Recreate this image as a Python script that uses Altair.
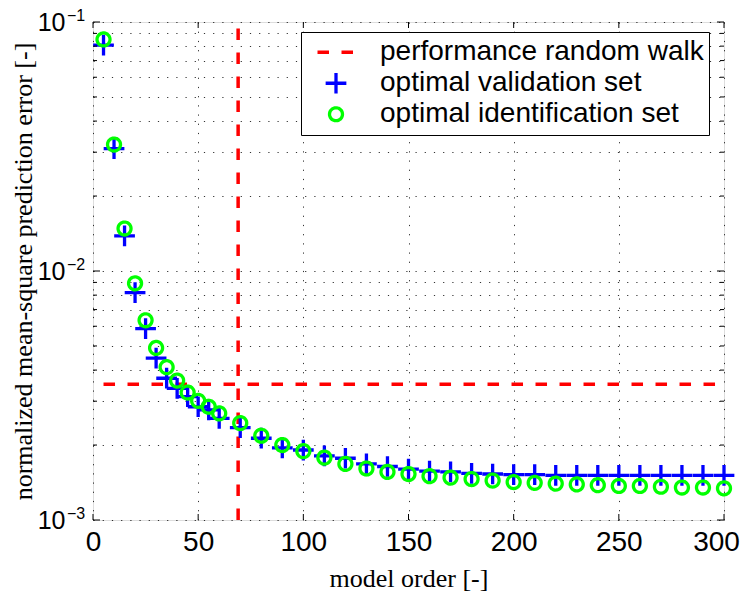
import altair as alt
import pandas as pd

# ---------------- data ----------------
orders = [5, 10, 15, 20, 25, 30, 35, 40, 45, 50, 55, 60,
          70, 80, 90, 100, 110, 120, 130, 140, 150, 160, 170, 180, 190, 200,
          210, 220, 230, 240, 250, 260, 270, 280, 290, 300]
val_err = [0.0808, 0.0310, 0.01384, 0.00818, 0.00587, 0.00447, 0.00371, 0.00338,
           0.00313, 0.00285, 0.00277, 0.00256, 0.00235, 0.00213, 0.00195, 0.00191,
           0.00181, 0.00177, 0.00168, 0.00164, 0.00160, 0.00157, 0.00156, 0.00154,
           0.00153, 0.00152, 0.00152, 0.00151, 0.00151, 0.00151, 0.00151, 0.00151,
           0.00151, 0.00151, 0.00151, 0.00151]
ident_err = [0.0851, 0.0322, 0.01481, 0.00892, 0.00634, 0.00491, 0.00411, 0.00363,
             0.00325, 0.00301, 0.00285, 0.00268, 0.00245, 0.00218, 0.00200, 0.00189,
             0.00178, 0.00168, 0.00161, 0.00156, 0.00153, 0.00150, 0.00148, 0.00146,
             0.00144, 0.00142, 0.00141, 0.00140, 0.00139, 0.00138, 0.00137, 0.00137,
             0.00136, 0.00135, 0.00135, 0.00134]
rw_level = 0.00351        # performance random walk (horizontal)
rw_order = 69             # chosen model order (vertical)
rw_x_range = [5, 300]
y_range = [0.001, 0.1]

names = ["performance random walk", "optimal validation set", "optimal identification set"]
colors = ["#ff0000", "#0000ff", "#00ff00"]
# shapes drawn in unit space, all scaled with one symbol size
shapes = ["M-1,0L1,0",
          "M-0.56,0L0.56,0M0,-0.56L0,0.56",
          "M0.35,0A0.35,0.35 0 1,1 -0.35,0A0.35,0.35 0 1,1 0.35,0Z"]
dashes = [[11.5, 12.5], [1, 0], [1, 0]]
SYM = 1369

x_ticks = [0, 50, 100, 150, 200, 250, 300]
y_major = [0.001, 0.01, 0.1]
y_minor = [m * d for d in [0.001, 0.01] for m in range(2, 10)]
y_grid = sorted(y_major + y_minor)
exponents = ["\u22123", "\u22122", "\u22121"]

W, H = 631, 498

# ---------------- tables ----------------
df_val = pd.DataFrame({"order": orders, "err": val_err, "series": names[1]})
df_id = pd.DataFrame({"order": orders, "err": ident_err, "series": names[2]})
df_rw = pd.DataFrame({
    "order": [rw_x_range[0], rw_order],
    "order2": [rw_x_range[1], rw_order],
    "err": [rw_level, y_range[0]],
    "err2": [rw_level, y_range[1]],
    "series": [names[0], names[0]],
})
df_xt = pd.DataFrame({"order": x_ticks})
df_ymaj = pd.DataFrame({"err": y_major})
df_ymin = pd.DataFrame({"err": y_minor})
df_exp = pd.DataFrame({"err": y_major, "e": exponents})

xscale = alt.Scale(domain=[0, 300], nice=False, zero=False)
yscale = alt.Scale(type="log", domain=y_range, nice=False)

leg = alt.Legend(
    title=None, orient="none", legendX=208, legendY=10,
    fillColor="white", strokeColor="black", padding=5,
    labelFont="Liberation Sans", labelFontSize=28, labelColor="black",
    labelOffset=23.5, rowPadding=0, symbolStrokeWidth=3.3, labelLimit=0,
    symbolOffset=9.5, symbolFillColor="transparent", symbolSize=SYM,
    clipHeight=30.5, labelExpr="datum.label + '\u00a0\u00a0'",
)

color_enc = alt.Color("series:N", scale=alt.Scale(domain=names, range=colors), legend=leg)
shape_enc = alt.Shape("series:N", scale=alt.Scale(domain=names, range=shapes), legend=leg)
dash_enc = alt.StrokeDash("series:N", scale=alt.Scale(domain=names, range=dashes), legend=leg)

X = alt.X("order:Q", scale=xscale, axis=alt.Axis(
    values=x_ticks, title="model order [-]", grid=True, gridDash=[1.2, 8],
    gridColor="#000000", gridOpacity=0.8, ticks=False, tickSize=0, domain=False,
    labelFlush=False, labelOverlap=False,
    labelOffset={"condition": {"test": "datum.value >= 300", "value": -8}, "value": 0},
    labelFont="Liberation Sans", labelFontSize=28, labelColor="black", labelPadding=8,
    titleFont="Liberation Serif", titleFontSize=26, titleFontWeight="normal",
    titleColor="black", titleX=315.5, titleY=66, titleAlign="center",
    titleBaseline="alphabetic"))
Y = alt.Y("err:Q", scale=yscale, axis=alt.Axis(
    values=y_grid, title="normalized mean-square prediction error [-]", grid=True,
    gridDash=[1.2, 8], gridColor="#000000", gridOpacity=0.8, ticks=False, tickSize=0,
    domain=False, labelOverlap=False, labelFlush=False,
    labelExpr="abs(log(datum.value)/LN10 - round(log(datum.value)/LN10)) < 0.001 ? '10' : ''",
    labelFont="Liberation Sans", labelFontSize=25, labelColor="black", labelPadding=28,
    labelBaseline="middle",
    titleFont="Liberation Serif", titleFontSize=26, titleFontWeight="normal",
    titleColor="black", titleX=-62, titleY=249, titleAngle=270, titleAlign="center",
    titleBaseline="alphabetic"))

rw = alt.Chart(df_rw).mark_rule(strokeWidth=3.5).encode(
    x=X, x2="order2:Q", y=Y, y2="err2:Q",
    color=color_enc, strokeDash=dash_enc)

pts_val = alt.Chart(df_val).mark_point(filled=False, strokeWidth=3.3, opacity=1, size=SYM).encode(
    x="order:Q", y=alt.Y("err:Q", scale=yscale),
    color=color_enc, shape=shape_enc, strokeDash=dash_enc)

pts_id = alt.Chart(df_id).mark_point(filled=False, strokeWidth=3.3, opacity=1, size=SYM).encode(
    x="order:Q", y=alt.Y("err:Q", scale=yscale),
    color=color_enc, shape=shape_enc, strokeDash=dash_enc)

# inward tick marks (matlab style box)
tx_b = alt.Chart(df_xt).mark_rule(color="black", strokeWidth=1).encode(
    x="order:Q", y=alt.value(H), y2=alt.value(H - 6))
tx_t = alt.Chart(df_xt).mark_rule(color="black", strokeWidth=1).encode(
    x="order:Q", y=alt.value(0), y2=alt.value(6))
ty_maj_l = alt.Chart(df_ymaj).mark_rule(color="black", strokeWidth=1).encode(
    y=alt.Y("err:Q", scale=yscale), x=alt.value(0), x2=alt.value(7))
ty_maj_r = alt.Chart(df_ymaj).mark_rule(color="black", strokeWidth=1).encode(
    y=alt.Y("err:Q", scale=yscale), x=alt.value(W), x2=alt.value(W - 7))
ty_min_l = alt.Chart(df_ymin).mark_rule(color="black", strokeWidth=1).encode(
    y=alt.Y("err:Q", scale=yscale), x=alt.value(0), x2=alt.value(4))
ty_min_r = alt.Chart(df_ymin).mark_rule(color="black", strokeWidth=1).encode(
    y=alt.Y("err:Q", scale=yscale), x=alt.value(W), x2=alt.value(W - 4))

exp_txt = alt.Chart(df_exp).mark_text(
    align="left", baseline="middle", dy=-6, fontSize=16, font="Liberation Sans",
    color="black").encode(
    y=alt.Y("err:Q", scale=yscale), x=alt.value(-26), text="e:N")

chart = alt.layer(
    rw, pts_val, pts_id, tx_b, tx_t, ty_maj_l, ty_maj_r, ty_min_l, ty_min_r, exp_txt
).properties(
    width=W, height=H,
    autosize=alt.AutoSizeParams(type="none"),
    padding={"left": 85, "top": 14, "right": 17, "bottom": 76},
).configure_view(stroke="black", strokeWidth=1.5).configure(background="white")

chart.save("out.html", embed_options={"renderer": "svg", "actions": False})
